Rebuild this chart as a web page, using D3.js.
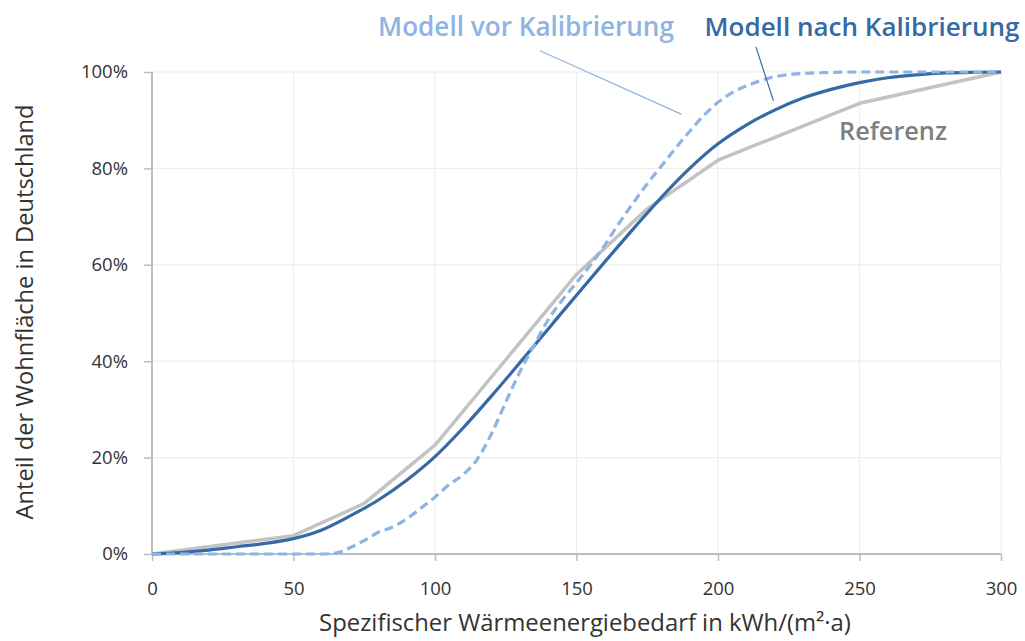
<!DOCTYPE html>
<html>
<head>
<meta charset="utf-8">
<script src="https://cdn.jsdelivr.net/npm/d3@7"></script>
<style>
  html, body { margin: 0; padding: 0; background: #fff; }
  svg { display: block; }
  text { font-family: "Open Sans", "Noto Sans", sans-serif; }
</style>
</head>
<body>
<svg id="chart" width="1025" height="641"></svg>
<script>
// ---------- data ----------
const xTickValues = [0, 50, 100, 150, 200, 250, 300];
const yTickValues = [0, 0.2, 0.4, 0.6, 0.8, 1.0];

// Referenz (grey polyline)
const refX = [0, 50, 75, 100, 125, 150, 175, 200, 250, 300];
const refY = [0, 0.038, 0.105, 0.226, 0.403, 0.58, 0.716, 0.817, 0.935, 1.0];

// Modell nach Kalibrierung (dark blue solid)
const nachX = [0, 10, 20, 30, 40, 50, 60, 70, 80, 90, 100, 110, 120, 130, 140, 150, 160, 170, 180, 190, 200, 210, 220, 230, 240, 250, 260, 270, 280, 290, 300];
const nachY = [0, 0.003, 0.008, 0.015, 0.022, 0.032, 0.050, 0.079, 0.112, 0.153, 0.202, 0.262, 0.328, 0.397, 0.467, 0.537, 0.606, 0.674, 0.740, 0.800, 0.851, 0.890, 0.921, 0.946, 0.964, 0.978, 0.988, 0.994, 0.998, 0.9995, 1.0];

// Modell vor Kalibrierung (light blue dashed)
const vorX = [0, 50, 60, 65, 70, 75, 80, 85, 90, 95, 100, 105, 110, 115, 120, 125, 130, 135, 140, 145, 150, 155, 160, 165, 170, 175, 180, 185, 190, 195, 200, 205, 210, 215, 220, 230, 240, 250, 300];
const vorY = [0, 0, 0, 0.002, 0.013, 0.028, 0.045, 0.056, 0.073, 0.095, 0.118, 0.144, 0.165, 0.197, 0.250, 0.315, 0.378, 0.433, 0.486, 0.527, 0.563, 0.600, 0.641, 0.686, 0.728, 0.768, 0.805, 0.842, 0.877, 0.910, 0.937, 0.957, 0.971, 0.982, 0.990, 0.997, 0.999, 1.0, 1.0];

const seriesNames = ["Modell vor Kalibrierung", "Modell nach Kalibrierung", "Referenz"];
const xTitle = "Spezifischer Wärmeenergiebedarf in kWh/(m²·a)";
const yTitle = "Anteil der Wohnfläche in Deutschland";

// ---------- layout ----------
const svg = d3.select("#chart");
const x = d3.scaleLinear().domain([0, 300]).range([152, 1001]);
const y = d3.scaleLinear().domain([0, 1]).range([554, 72]);

const colRef = "#c3c3c3", colNach = "#366aa6", colVor = "#8db4e2";

function fitText(sel, targetW) {
  const w = sel.node().getComputedTextLength();
  const fs = parseFloat(sel.attr("font-size"));
  sel.attr("font-size", (fs * targetW / w).toFixed(2));
}

// gridlines
svg.append("g").selectAll("line.h").data(yTickValues.filter(d => d > 0)).join("line")
  .attr("x1", x(0)).attr("x2", x(300))
  .attr("y1", d => y(d)).attr("y2", d => y(d))
  .attr("stroke", "#eeeeee").attr("stroke-width", 1.2);
svg.append("g").selectAll("line.v").data(xTickValues.filter(d => d > 0)).join("line")
  .attr("x1", d => x(d)).attr("x2", d => x(d))
  .attr("y1", y(0)).attr("y2", y(1))
  .attr("stroke", "#eeeeee").attr("stroke-width", 1.2);

// axes
const xAxis = d3.axisBottom(x).tickValues(xTickValues).tickSize(7).tickPadding(21).tickFormat(d3.format("d"));
const yAxis = d3.axisLeft(y).tickValues(yTickValues).tickSize(8).tickPadding(16).tickFormat(d3.format(".0%"));

const gx = svg.append("g").attr("transform", `translate(0,${y(0)})`).call(xAxis);
const gy = svg.append("g").attr("transform", `translate(${x(0)},0)`).call(yAxis);
[gx, gy].forEach(g => {
  g.select(".domain").attr("stroke", "#bdbdbd").attr("stroke-width", 2);
  g.selectAll(".tick line").attr("stroke", "#bdbdbd").attr("stroke-width", 1.5);
  g.selectAll(".tick text").attr("fill", "#333").attr("font-size", 18.5)
    .attr("font-family", "'Open Sans', sans-serif");
});
gx.select(".domain").attr("d", `M${x(0)},0H${x(300)}`);
gy.select(".domain").attr("d", `M0,${y(0)}V${y(1)}`);

// axis titles
const tx = svg.append("text").attr("x", 585).attr("y", 631).attr("text-anchor", "middle")
  .attr("font-size", 20).attr("fill", "#333").text(xTitle);
fitText(tx, 532);
const ty = svg.append("text").attr("transform", "translate(33,312) rotate(-90)").attr("text-anchor", "middle")
  .attr("font-size", 20).attr("fill", "#333").text(yTitle);
fitText(ty, 415);

// lines
const lineLin = d3.line().x(d => x(d[0])).y(d => y(d[1]));
const lineSmooth = d3.line().x(d => x(d[0])).y(d => y(d[1])).curve(d3.curveMonotoneX);

svg.append("path").datum(d3.zip(refX, refY)).attr("d", lineLin)
  .attr("fill", "none").attr("stroke", colRef).attr("stroke-width", 3.5).attr("stroke-linejoin", "round");
svg.append("path").datum(d3.zip(nachX, nachY)).attr("d", lineSmooth)
  .attr("fill", "none").attr("stroke", colNach).attr("stroke-width", 3.2);
svg.append("path").datum(d3.zip(vorX, vorY)).attr("d", lineSmooth)
  .attr("fill", "none").attr("stroke", colVor).attr("stroke-width", 3.2).attr("stroke-dasharray", "9,5");

// annotations (labels, leader lines)
const tVor = svg.append("text").attr("x", 526).attr("y", 36).attr("text-anchor", "middle")
  .attr("font-size", 23).attr("font-weight", 600).attr("fill", colVor).text(seriesNames[0]);
fitText(tVor, 296);
const tNach = svg.append("text").attr("x", 862).attr("y", 36).attr("text-anchor", "middle")
  .attr("font-size", 23).attr("font-weight", 600).attr("fill", colNach).text(seriesNames[1]);
fitText(tNach, 315);
const tRef = svg.append("text").attr("x", 893).attr("y", 140).attr("text-anchor", "middle")
  .attr("font-size", 23).attr("font-weight", 600).attr("fill", "#7f7f7f").text(seriesNames[2]);
fitText(tRef, 108);

svg.append("line")
  .attr("x1", x(137.1)).attr("y1", y(1.044)).attr("x2", x(187.2)).attr("y2", y(0.912))
  .attr("stroke", colVor).attr("stroke-width", 1.2);
svg.append("line")
  .attr("x1", x(213.4)).attr("y1", y(1.052)).attr("x2", x(219.6)).attr("y2", y(0.94))
  .attr("stroke", colNach).attr("stroke-width", 1.2);
</script>
</body>
</html>
